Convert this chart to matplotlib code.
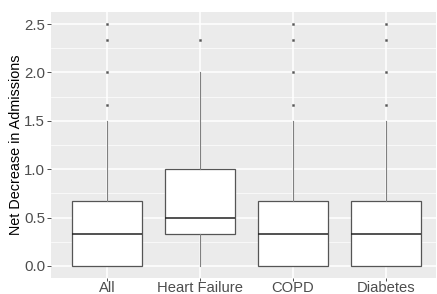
import matplotlib.pyplot as plt

# ggplot-like boxplot, values
categories = ["All", "Heart Failure", "COPD", "Diabetes"]
whisker_low = [0.0, 0.0, 0.0, 0.0]
q1 = [0.0, 1 / 3, 0.0, 0.0]
medians = [1 / 3, 0.5, 1 / 3, 1 / 3]
q3 = [2 / 3, 1.0, 2 / 3, 2 / 3]
whisker_high = [1.5, 2.0, 1.5, 1.5]
outliers = [
    [5 / 3, 2.0, 7 / 3, 2.5],
    [7 / 3],
    [5 / 3, 2.0, 7 / 3, 2.5],
    [5 / 3, 2.0, 7 / 3, 2.5],
]
y_ticks = [0.0, 0.5, 1.0, 1.5, 2.0, 2.5]

plt.rcParams['font.family'] = ['Liberation Sans', 'DejaVu Sans']

fig = plt.figure(figsize=(4.37, 2.94), dpi=100)
W, H = 437, 294
ax = fig.add_axes([51 / W, (H - 278) / H, (436 - 51) / W, (278 - 12) / H])
ax.set_facecolor("#EBEBEB")

stats = []
for i in range(len(categories)):
    stats.append({
        "label": categories[i],
        "whislo": whisker_low[i],
        "q1": q1[i],
        "med": medians[i],
        "q3": q3[i],
        "whishi": whisker_high[i],
        "fliers": outliers[i],
    })

ax.bxp(stats, positions=range(1, len(categories) + 1), widths=0.75,
       patch_artist=True, showcaps=False,
       boxprops=dict(facecolor="white", edgecolor="#555555", linewidth=0.9),
       whiskerprops=dict(color="#808080", linewidth=0.8),
       medianprops=dict(color="#222222", linewidth=1.1),
       flierprops=dict(marker="s", markersize=1.4, markerfacecolor="#555555",
                       markeredgecolor="#555555", markeredgewidth=0.3),
       zorder=3)

ax.set_xlim(0.4, 4.537)
ax.set_ylim(-0.125, 2.625)
ax.set_yticks(y_ticks)
ax.set_yticklabels([f"{t:.1f}" for t in y_ticks])
ax.set_yticks([0.25, 0.75, 1.25, 1.75, 2.25], minor=True)
ax.set_xticks(range(1, len(categories) + 1))
ax.set_xticklabels(categories)

ax.grid(True, which="major", color="white", linewidth=1.1, zorder=0)
ax.grid(True, which="minor", axis="y", color="white", linewidth=0.5, zorder=0)
ax.set_axisbelow(True)
for s in ax.spines.values():
    s.set_visible(False)

ax.tick_params(axis="both", which="major", width=0.6, color="#333333",
               labelcolor="#4D4D4D", labelsize=10.8)
ax.tick_params(axis="y", which="major", length=2.7, pad=1.5)
ax.tick_params(axis="x", which="major", length=2.0, pad=0.0, labelsize=10.6)
ax.tick_params(axis="both", which="minor", length=0)
ax.set_ylabel("Net Decrease in Admissions", fontsize=10.4, color="black", labelpad=1)

fig.savefig("out.png", dpi=100)
